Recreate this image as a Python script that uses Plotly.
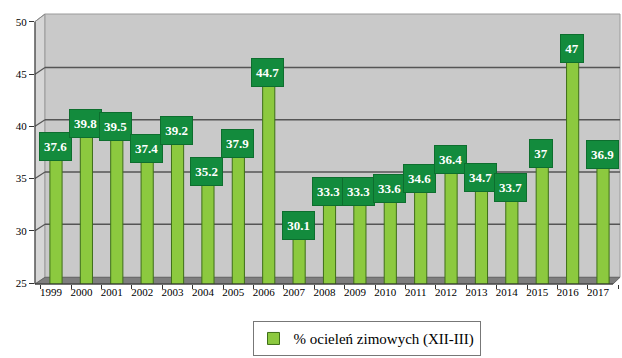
import plotly.graph_objects as go

# Share of winter calvings (Dec-Mar), by year
years = [str(y) for y in range(1999, 2018)]
winter_share = [37.6, 39.8, 39.5, 37.4, 39.2, 35.2, 37.9, 44.7, 30.1, 33.3,
                33.3, 33.6, 34.6, 36.4, 34.7, 33.7, 37.0, 47.0, 36.9]
value_text = ["37.6", "39.8", "39.5", "37.4", "39.2", "35.2", "37.9", "44.7", "30.1", "33.3",
              "33.3", "33.6", "34.6", "36.4", "34.7", "33.7", "37", "47", "36.9"]
y_ticks = [25, 30, 35, 40, 45, 50]
series_name = "% ocieleń zimowych (XII-III)"

W, H = 622, 358
L, R, T, B = 35, 620, 14, 297           # plot area in pixels
PX_PER_UNIT = 10.94                     # vertical scale of the back wall
DEPTH_Y = 7                             # vertical offset front edge vs back wall
WALL_X = 45                             # left edge of the back wall

y_lo = 25 - (B - 289) / PX_PER_UNIT
y_hi = 50 + (15.3 - T) / PX_PER_UNIT
shift = DEPTH_Y / PX_PER_UNIT

slot = 30.39
x_lo = (L - 56) / slot
x_hi = (R - 56) / slot


def px(xp):
    return (xp - L) / (R - L)


def py(yp):
    return (B - yp) / (B - T)


def poly(points):
    return "M " + " L ".join(f"{px(a):.5f},{py(b):.5f}" for a, b in points) + " Z"


fig = go.Figure()
# bars rise from the floor of the box up to each value
fig.add_trace(go.Bar(
    x=years, y=[v - y_lo for v in winter_share], base=y_lo, width=0.4,
    marker=dict(color="#8cc93f", line=dict(color="#3e6e18", width=1)),
    name=series_name, showlegend=True,
    customdata=winter_share, hovertemplate="%{x}: %{customdata}<extra></extra>",
))
# empty trace that carries the front value axis
fig.add_trace(go.Scatter(x=[years[0]], y=[None], yaxis="y2", mode="markers",
                         showlegend=False, hoverinfo="skip"))

shapes = []
# side wall, back wall and floor of the 3D box
shapes.append(dict(type="path", xref="paper", yref="paper", layer="below",
                   path=poly([(L, 22), (WALL_X, T), (WALL_X, 290), (L, B)]),
                   fillcolor="#d6d6d6", line=dict(color="#9a9a9a", width=1)))
shapes.append(dict(type="rect", xref="paper", yref="paper", layer="below",
                   x0=px(WALL_X), x1=px(R), y0=py(290), y1=py(T),
                   fillcolor="#c9c9c9", line=dict(color="#9a9a9a", width=1)))
shapes.append(dict(type="path", xref="paper", yref="paper", layer="below",
                   path=poly([(L, B), (WALL_X, 290), (R, 290), (613, B)]),
                   fillcolor="#7e7e7e", line=dict(color="#666666", width=1)))
# gridlines on the back wall with their slanted part on the side wall
for v in y_ticks[1:-1]:
    shapes.append(dict(type="line", xref="paper", yref="y", layer="below",
                       x0=px(WALL_X), x1=px(R), y0=v, y1=v,
                       line=dict(color="#555555", width=1.5)))
    shapes.append(dict(type="line", xref="paper", yref="y", layer="below",
                       x0=px(L), x1=px(WALL_X), y0=v - shift, y1=v,
                       line=dict(color="#555555", width=1.2)))
# front axis lines
shapes.append(dict(type="line", xref="paper", yref="paper",
                   x0=px(L), x1=px(L), y0=py(22), y1=py(B),
                   line=dict(color="#333333", width=1)))
shapes.append(dict(type="line", xref="paper", yref="paper",
                   x0=px(L), x1=px(613), y0=py(B), y1=py(B),
                   line=dict(color="#333333", width=1)))
shapes.append(dict(type="line", xref="paper", yref="paper",
                   x0=px(L), x1=px(WALL_X), y0=py(22), y1=py(T),
                   line=dict(color="#8a8a8a", width=1)))

# value boxes (x given as category index)
annotations = []
for i, (v, t) in enumerate(zip(winter_share, value_text)):
    annotations.append(dict(
        x=i, y=v, xref="x", yref="y", text=f"<b>{t}</b>", showarrow=False,
        xshift=-1, yshift=-2, width=11 + 4.5 * len(t), height=25,
        bgcolor="#138b3d", bordercolor="#0d6e2e", borderwidth=1,
        font=dict(family="Liberation Serif", size=13, color="white"),
        align="center", valign="middle",
    ))

serif = "Liberation Serif"
fig.update_layout(
    width=W, height=H,
    margin=dict(l=L, r=W - R, t=T, b=H - B),
    paper_bgcolor="white", plot_bgcolor="white",
    shapes=shapes, annotations=annotations,
    bargap=0.6,
    xaxis=dict(type="category", range=[x_lo, x_hi], showgrid=False, zeroline=False,
               showline=False, ticks="outside", ticklen=4, tickcolor="#333333",
               tickson="boundaries", ticklabelshift=-5, tickangle=0,
               tickfont=dict(family=serif, size=11, color="black")),
    yaxis=dict(range=[y_lo, y_hi], showgrid=False, zeroline=False,
               showticklabels=False, showline=False),
    yaxis2=dict(range=[y_lo + shift, y_hi + shift], overlaying="y", side="left",
                anchor="x", tickvals=y_ticks, showgrid=False, zeroline=False,
                showline=False, ticks="outside", ticklen=5, tickcolor="#333333",
                tickfont=dict(family=serif, size=11, color="black")),
    legend=dict(orientation="h", x=px(366.5), xanchor="center",
                y=-(336 - B) / (B - T), yanchor="top",
                bgcolor="white", bordercolor="#777777", borderwidth=1,
                font=dict(family=serif, size=15, color="black")),
)

fig.write_html("out.html")
